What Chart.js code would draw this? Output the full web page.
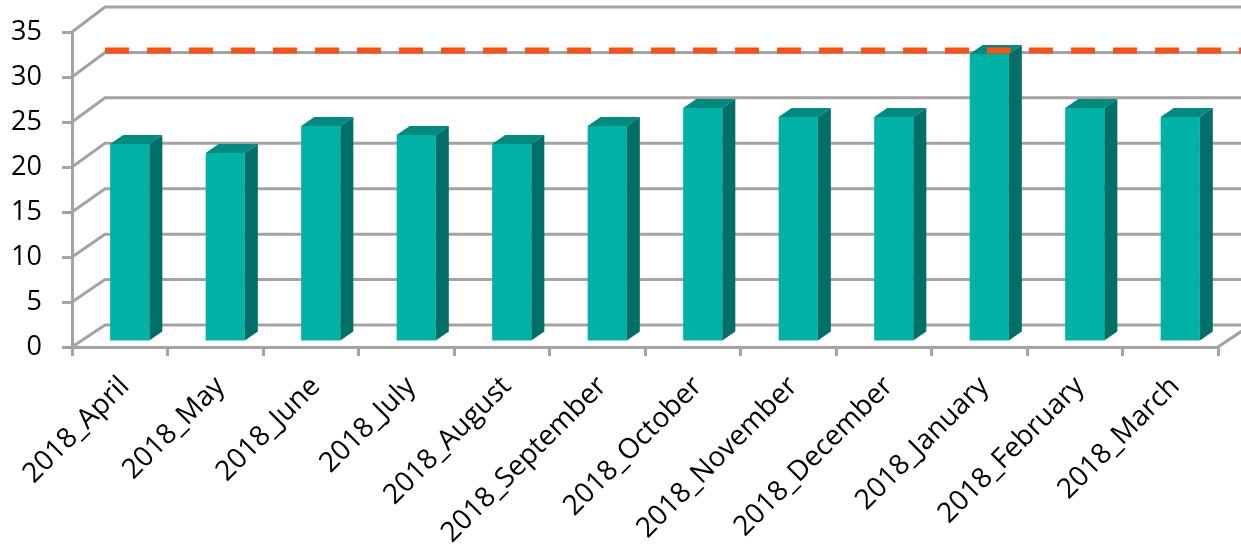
<!DOCTYPE html>
<html>
<head>
<meta charset="utf-8">
<script src="https://cdn.jsdelivr.net/npm/chart.js@4.4.0/dist/chart.umd.min.js"></script>
<style>
  body { margin: 0; background: #fff; }
  #wrap { width: 1241px; height: 547px; }
</style>
</head>
<body>
<div id="wrap"><canvas id="myChart"></canvas></div>
<script>
const months = ['2018_April', '2018_May', '2018_June', '2018_July', '2018_August', '2018_September',
    '2018_October', '2018_November', '2018_December', '2018_January', '2018_February', '2018_March'];
const values = [22, 21, 24, 23, 22, 24, 26, 25, 25, 32, 26, 25];
const targetValue = 32.4;
const yTicks = [0, 5, 10, 15, 20, 25, 30, 35];

const gridColor = '#a3a3a3';
const fontName = '"Open Sans", "Liberation Sans", sans-serif';

// fake 3d: back wall offset, bar offset inside the box, bar depth
const wall = { dx: 33, dy: -22 };
const barShift = { dx: 10, dy: -5 };
const barDepth = { dx: 13, dy: -9 };

const depth3d = {
    id: 'depth3d',
    beforeDraw(chart) {
        const ctx = chart.ctx;
        const y = chart.scales.y;
        const area = chart.chartArea;
        ctx.save();
        ctx.strokeStyle = gridColor;
        ctx.lineWidth = 3;
        yTicks.forEach(function (v) {
            const yf = y.getPixelForValue(v);
            const yb = yf + wall.dy - (area.bottom - yf) * 0.0095;
            ctx.beginPath();
            ctx.moveTo(area.left, yf);
            ctx.lineTo(area.left + wall.dx, yb);
            ctx.lineTo(chart.width + 5, yb);
            ctx.stroke();
        });
        // right edge of the floor
        ctx.beginPath();
        ctx.moveTo(area.right, area.bottom);
        ctx.lineTo(area.right + wall.dx, area.bottom + wall.dy);
        ctx.stroke();
        ctx.restore();
    },
    beforeDatasetsDraw(chart) {
        chart.ctx.save();
        chart.ctx.translate(barShift.dx, barShift.dy);
    },
    afterDatasetsDraw(chart) {
        const ctx = chart.ctx;
        const meta = chart.getDatasetMeta(0);
        meta.data.forEach(function (bar) {
            const l = bar.x - bar.width / 2;
            const r = bar.x + bar.width / 2;
            const t = bar.y;
            const b = bar.base;
            // top face
            ctx.fillStyle = '#008a80';
            ctx.beginPath();
            ctx.moveTo(l, t);
            ctx.lineTo(l + barDepth.dx, t + barDepth.dy);
            ctx.lineTo(r + barDepth.dx, t + barDepth.dy);
            ctx.lineTo(r, t);
            ctx.closePath();
            ctx.fill();
            // side face
            ctx.fillStyle = '#006f68';
            ctx.beginPath();
            ctx.moveTo(r, t);
            ctx.lineTo(r + barDepth.dx, t + barDepth.dy);
            ctx.lineTo(r + barDepth.dx, b + barDepth.dy);
            ctx.lineTo(r, b);
            ctx.closePath();
            ctx.fill();
        });
        ctx.restore();

        // target line on the back wall
        const area = chart.chartArea;
        const yt = chart.scales.y.getPixelForValue(targetValue) + barShift.dy;
        ctx.save();
        ctx.strokeStyle = '#ff5014';
        ctx.lineWidth = 6;
        ctx.setLineDash([24, 18]);
        ctx.beginPath();
        ctx.moveTo(area.left + wall.dx, yt);
        ctx.lineTo(chart.width, yt);
        ctx.stroke();
        ctx.restore();
    }
};

const ctx = document.getElementById('myChart');
const myChart = new Chart(ctx, {
    type: 'bar',
    data: {
        labels: months,
        datasets: [{
            data: values,
            backgroundColor: '#00b2a6',
            borderWidth: 0,
            barPercentage: 0.41,
            categoryPercentage: 1,
            clip: false
        }]
    },
    options: {
        responsive: true,
        maintainAspectRatio: false,
        animation: false,
        layout: { padding: { top: 32, right: 23, left: 0, bottom: 0 } },
        plugins: {
            legend: { display: false },
            tooltip: { enabled: false }
        },
        scales: {
            x: {
                grid: {
                    drawOnChartArea: false,
                    color: gridColor,
                    lineWidth: 3,
                    tickLength: 9
                },
                border: { color: gridColor, width: 3 },
                ticks: {
                    autoSkip: false,
                    maxRotation: 45,
                    minRotation: 45,
                    color: '#000',
                    padding: 14,
                    labelOffset: 5,
                    font: { family: fontName, size: 28 }
                },
                afterFit(scale) {
                    scale.height = 200;
                    scale.paddingLeft = 0;
                    scale.paddingRight = 0;
                }
            },
            y: {
                min: 0,
                max: 35,
                grid: {
                    drawOnChartArea: false,
                    color: gridColor,
                    lineWidth: 3,
                    tickLength: 10
                },
                border: { color: gridColor, width: 3 },
                ticks: {
                    stepSize: 5,
                    color: '#000',
                    padding: 20,
                    font: { family: fontName, size: 27 }
                },
                afterFit(scale) {
                    scale.width = 72;
                    scale.paddingTop = 0;
                    scale.paddingBottom = 0;
                }
            }
        }
    },
    plugins: [depth3d]
});
</script>
</body>
</html>
